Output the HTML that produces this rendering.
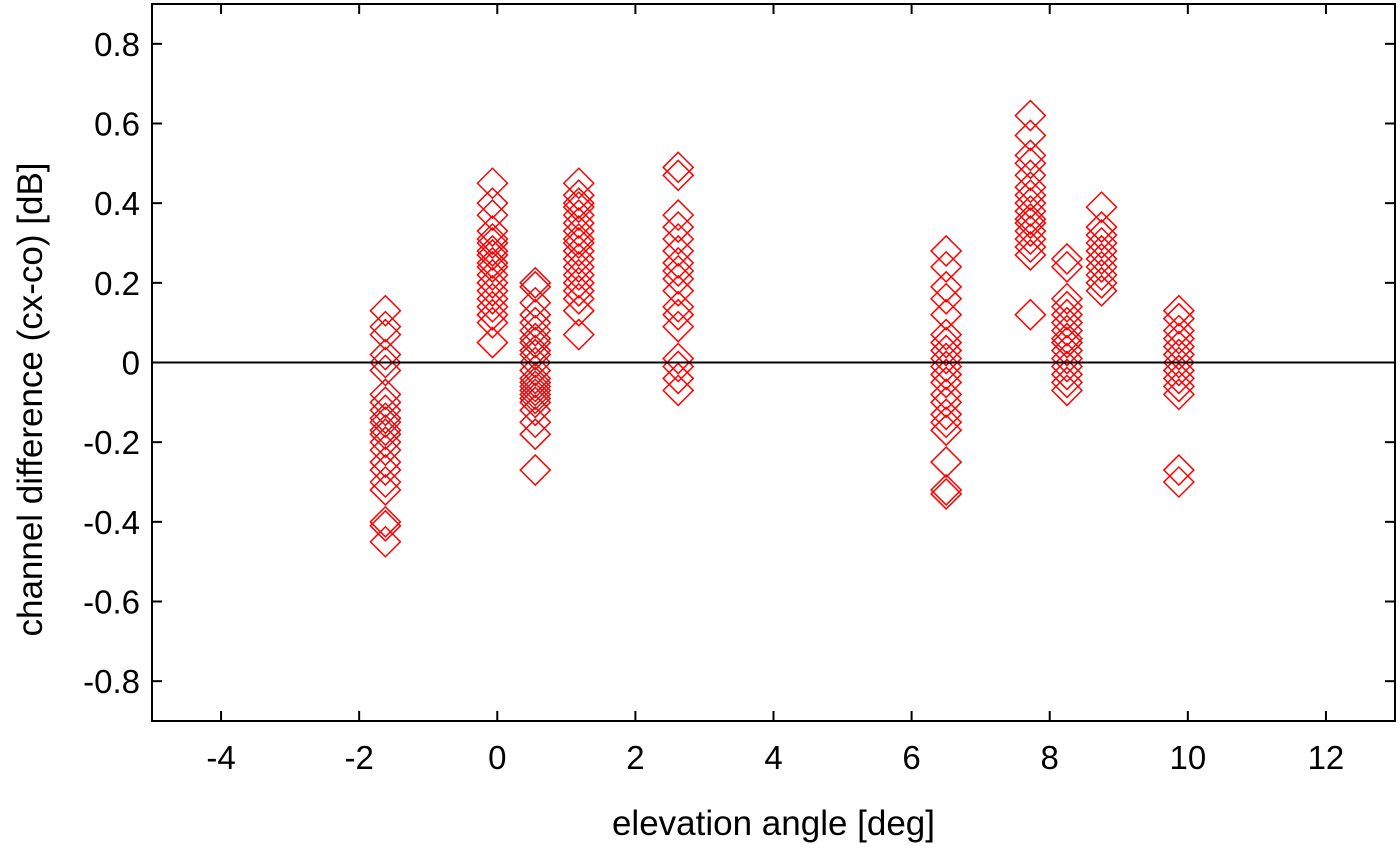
<!DOCTYPE html>
<html><head><meta charset="utf-8"><style>
body{margin:0;background:#fff;}
svg text{font-family:"Liberation Sans",Arial,sans-serif;font-size:33px;fill:#000;}
svg text.title{font-size:35px;}
</style></head><body>
<svg id="chart" width="1400" height="843" xmlns="http://www.w3.org/2000/svg">
<g id="marks"></g>
<g id="axes"></g>
</svg>
<script>
const xTicks=[-4,-2,0,2,4,6,8,10,12];
const yTicks=[-0.8,-0.6,-0.4,-0.2,0,0.2,0.4,0.6,0.8];
const clusterX=[-1.62,-0.07,0.55,1.18,2.62,6.5,7.72,8.25,8.75,9.87];
const clusterY=[
[0.13,0.09,0.07,0.02,0.0,-0.02,-0.08,-0.1,-0.12,-0.14,-0.15,-0.17,-0.18,-0.2,-0.22,-0.25,-0.27,-0.3,-0.32,-0.4,-0.41,-0.45],
[0.45,0.4,0.37,0.33,0.31,0.3,0.28,0.27,0.25,0.24,0.22,0.2,0.18,0.16,0.14,0.12,0.1,0.05],
[0.2,0.19,0.15,0.12,0.1,0.08,0.06,0.05,0.03,0.02,0,-0.02,-0.04,-0.05,-0.06,-0.07,-0.08,-0.09,-0.1,-0.12,-0.15,-0.18,-0.27],
[0.45,0.42,0.4,0.39,0.37,0.35,0.33,0.31,0.3,0.28,0.26,0.24,0.22,0.2,0.18,0.16,0.13,0.07],
[0.49,0.47,0.37,0.34,0.31,0.28,0.25,0.23,0.21,0.18,0.14,0.12,0.09,0.01,-0.01,-0.04,-0.07],
[0.28,0.24,0.19,0.16,0.12,0.07,0.05,0.03,0.01,-0.01,-0.03,-0.05,-0.08,-0.1,-0.13,-0.15,-0.17,-0.25,-0.32,-0.33],
[0.62,0.57,0.52,0.5,0.47,0.44,0.42,0.4,0.38,0.36,0.35,0.33,0.31,0.29,0.27,0.12],
[0.26,0.24,0.16,0.14,0.12,0.1,0.08,0.06,0.05,0.03,0.01,-0.01,-0.03,-0.05,-0.07],
[0.39,0.34,0.32,0.3,0.28,0.26,0.24,0.22,0.2,0.18],
[0.13,0.11,0.08,0.06,0.04,0.02,0,-0.02,-0.04,-0.06,-0.08,-0.27,-0.3]];
const L=152,R=1395,T=4,B=721,xmin=-5,xmax=13,ymin=-0.9,ymax=0.9;
const sx=v=>L+(v-xmin)/(xmax-xmin)*(R-L);
const sy=v=>B-(v-ymin)/(ymax-ymin)*(B-T);
const NS="http://www.w3.org/2000/svg";
function mk(tag,attrs,parent){const e=document.createElementNS(NS,tag);for(const k in attrs)e.setAttribute(k,attrs[k]);parent.appendChild(e);return e;}
const axes=document.getElementById('axes'),marks=document.getElementById('marks');
let zl=mk('line',{x1:L,x2:R,y1:sy(0),y2:sy(0),stroke:'#000','stroke-width':2},axes);


clusterX.forEach((cx,i)=>{clusterY[i].forEach(v=>{
const x=sx(cx),y=sy(v),h=15;
const p=mk('path',{d:`M${x-h},${y}L${x},${y-h}L${x+h},${y}L${x},${y+h}Z`,fill:'none',stroke:'#f00','stroke-width':1.5},marks);


});});
const fr=mk('rect',{x:L,y:T,width:R-L,height:B-T,fill:'none',stroke:'#000','stroke-width':2},axes);


xTicks.forEach(v=>{const x=sx(v);
mk('line',{x1:x,x2:x,y1:B,y2:B-10,stroke:'#000','stroke-width':2},axes);
mk('line',{x1:x,x2:x,y1:T,y2:T+10,stroke:'#000','stroke-width':2},axes);
const t=mk('text',{x:x,y:B+48,'text-anchor':'middle'},axes);t.textContent=v;

});
yTicks.forEach(v=>{const y=sy(v);
mk('line',{x1:L,x2:L+10,y1:y,y2:y,stroke:'#000','stroke-width':2},axes);
mk('line',{x1:R,x2:R-10,y1:y,y2:y,stroke:'#000','stroke-width':2},axes);
const t=mk('text',{x:L-12,y:y+12,'text-anchor':'end'},axes);t.textContent=(v===0?'0':v.toFixed(1));

});
const xt=mk('text',{x:(L+R)/2,y:835,'text-anchor':'middle','class':'title'},axes);xt.textContent='elevation angle [deg]';


const yt=mk('text',{x:0,y:0,'text-anchor':'middle','class':'title',transform:`translate(42,${sy(0)+37}) rotate(-90)`},axes);yt.textContent='channel difference (cx-co) [dB]';


</script>
</body></html>
